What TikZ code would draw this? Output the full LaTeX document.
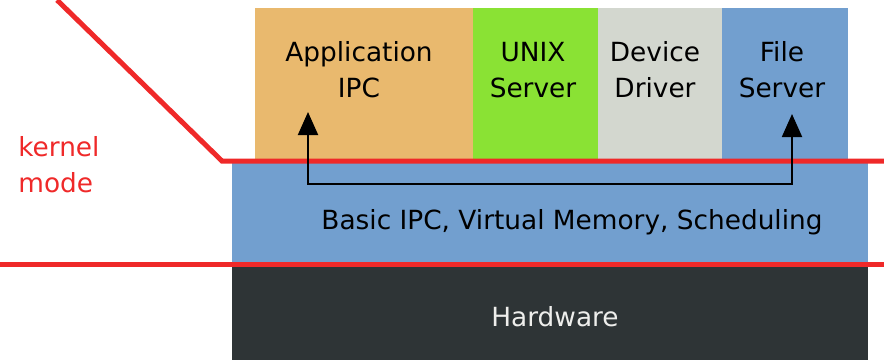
\documentclass[tikz,border=0pt]{standalone}
\usepackage{fontspec}
\setmainfont{DejaVu Sans}
\usepackage{xcolor}
\usetikzlibrary{positioning}
\usetikzlibrary{arrows.meta}
\definecolor{chocolate}{HTML}{E9B96E}
\definecolor{chameleon}{HTML}{8AE234}
\definecolor{aluminium}{HTML}{D3D7CF}
\definecolor{skyblue}{HTML}{729FCF}
\definecolor{darkalu}{HTML}{2E3436}
\definecolor{scarlet}{HTML}{EF2929}
\definecolor{lightalu}{HTML}{EEEEEC}
\newcommand{\labeltext}{\fontsize{15pt}{20.5pt}\selectfont}

\begin{document}
\begin{tikzpicture}[x=0.02cm, y=-0.02cm,
    boxtext/.style={align=center, inner sep=0pt, font=\labeltext},
    modeline/.style={scarlet, line width=0.1cm},
    ipc/.style={line width=0.04cm, {Triangle[length=4.6mm, width=4mm]}-{Triangle[length=4.6mm, width=4mm]}}]
                \useasboundingbox (0,0) rectangle (884,360);

                % User space servers
                \fill[chocolate] (255,8) rectangle (473,160);
                \fill[chameleon] (473,8) rectangle (598,160);
                \fill[aluminium] (598,8) rectangle (722,160);
                \fill[skyblue] (722,8) rectangle (848,160);
                \node[boxtext] (app) at (359,70) {Application\\IPC};
                \node[boxtext] (unix) at (533,70) {UNIX\\Server};
                \node[boxtext] (driver) at (655,70) {Device\\Driver};
                \node[boxtext] (fs) at (782,70) {File\\Server};

                % Kernel
                \fill[skyblue] (232,160) rectangle (868,262);
                \node[boxtext] (kernel) at (572,222) {Basic IPC, Virtual Memory, Scheduling};

                % Hardware
                \fill[darkalu] (232,264) rectangle (868,360);
                \node[boxtext, text=lightalu] (hw) at (555,317) {Hardware};

                % Mode boundaries
                \draw[modeline] (57,0) -- (222,161) -- (884,161);
                \draw[modeline] (0,264) -- (884,264);
                \node[boxtext, align=left, anchor=west, text=scarlet] (kmode) at (18,165) {kernel\\mode};

                % IPC through the kernel
                \coordinate (apptip) at (308,112);
                \coordinate (fstip) at (792,114);
                \draw[ipc] (apptip) -- ++(0,72) -| (fstip);
            \end{tikzpicture}
\end{document}
